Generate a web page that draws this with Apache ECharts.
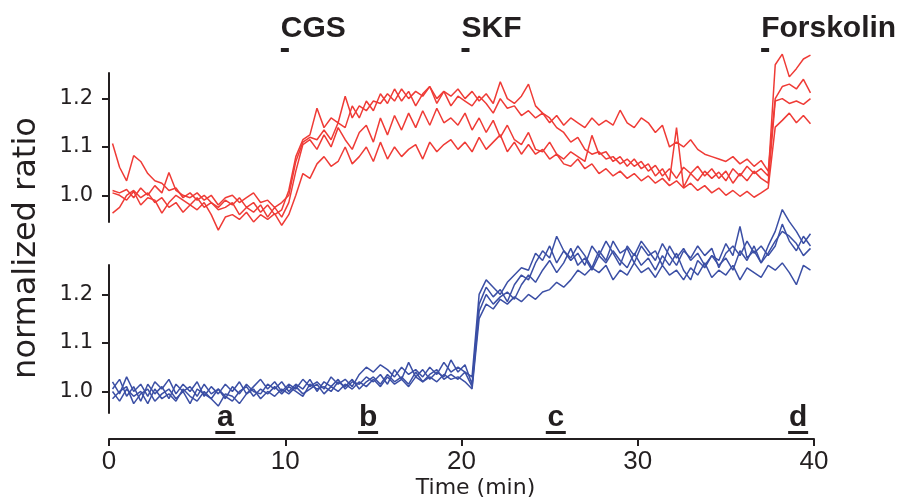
<!DOCTYPE html>
<html>
<head>
<meta charset="utf-8">
<script src="https://cdn.jsdelivr.net/npm/echarts/dist/echarts.min.js"></script>
<style>
html,body{margin:0;padding:0;background:#fff;}
#chart{width:906px;height:504px;}
</style>
</head>
<body>
<div id="chart"></div>
<script>
// ---- data ----
const times = [0.2,0.6,1.0,1.4,1.8,2.2,2.6,3.0,3.4,3.8,4.2,4.6,5.0,5.4,5.8,6.2,6.6,7.0,7.4,7.8,
  8.2,8.6,9.0,9.4,9.8,10.2,10.6,11.0,11.4,11.8,12.2,12.6,13.0,13.4,13.8,14.2,14.6,15.0,15.4,15.8,
  16.2,16.6,17.0,17.4,17.8,18.2,18.6,19.0,19.4,19.8,20.2,20.6,21.0,21.4,21.8,22.2,22.6,23.0,23.4,23.8,
  24.2,24.6,25.0,25.4,25.8,26.2,26.6,27.0,27.4,27.8,28.2,28.6,29.0,29.4,29.8,30.2,30.6,31.0,31.4,31.8,
  32.2,32.6,33.0,33.4,33.8,34.2,34.6,35.0,35.4,35.8,36.2,36.6,37.0,37.4,37.8,38.2,38.6,39.0,39.4,39.8];

const red1 = [1.107,1.058,1.030,1.082,1.070,1.045,1.030,1.025,1.010,1.015,
 0.995,1.005,0.990,1.000,0.985,0.975,0.990,0.980,0.995,0.975,
 0.985,0.965,0.980,0.960,0.970,1.010,1.080,1.115,1.125,1.180,
 1.140,1.160,1.150,1.205,1.160,1.185,1.175,1.195,1.190,1.210,
 1.195,1.220,1.200,1.215,1.205,1.225,1.200,1.215,1.205,1.220,
 1.200,1.215,1.195,1.210,1.190,1.235,1.200,1.190,1.205,1.230,
 1.185,1.170,1.160,1.140,1.130,1.110,1.120,1.095,1.085,1.090,
 1.075,1.080,1.065,1.075,1.060,1.070,1.050,1.062,1.040,1.055,
 1.035,1.058,1.045,1.030,1.050,1.035,1.048,1.030,1.055,1.040,
 1.060,1.045,1.055,1.040,1.270,1.292,1.245,1.262,1.282,1.290];
const red2 = [1.010,1.005,1.012,0.995,1.015,1.000,1.020,1.005,1.047,1.010,
 1.000,0.995,1.005,0.990,1.000,0.980,0.995,1.000,0.985,0.995,
 1.005,0.985,0.990,0.975,0.985,1.000,1.070,1.110,1.120,1.115,
 1.135,1.115,1.150,1.140,1.185,1.160,1.195,1.175,1.210,1.190,
 1.220,1.195,1.215,1.185,1.210,1.225,1.190,1.215,1.185,1.205,
 1.195,1.185,1.205,1.190,1.170,1.200,1.180,1.185,1.165,1.175,
 1.160,1.170,1.150,1.165,1.145,1.160,1.150,1.140,1.160,1.145,
 1.155,1.145,1.176,1.150,1.140,1.160,1.150,1.130,1.145,1.100,
 1.110,1.100,1.115,1.095,1.085,1.080,1.075,1.070,1.080,1.065,
 1.075,1.060,1.072,1.050,1.200,1.225,1.230,1.220,1.240,1.212];
const red3 = [1.005,1.000,0.990,1.008,0.980,0.995,0.990,0.963,0.985,1.000,
 0.990,0.980,0.995,0.975,0.985,0.970,0.975,0.985,0.960,0.975,
 0.965,0.980,0.955,0.975,0.955,0.985,1.050,1.105,1.115,1.095,
 1.125,1.100,1.140,1.115,1.095,1.130,1.145,1.110,1.160,1.125,
 1.165,1.135,1.170,1.140,1.175,1.145,1.180,1.150,1.160,1.145,
 1.170,1.135,1.160,1.130,1.155,1.120,1.145,1.115,1.105,1.130,
 1.095,1.090,1.110,1.085,1.075,1.090,1.080,1.070,1.124,1.085,
 1.090,1.070,1.080,1.060,1.075,1.055,1.065,1.040,1.055,1.030,
 1.140,1.017,1.045,1.060,1.040,1.055,1.035,1.050,1.025,1.045,
 1.030,1.050,1.035,1.025,1.195,1.200,1.190,1.195,1.188,1.200];
const red4 = [0.963,0.975,1.000,1.010,0.995,1.005,0.985,0.995,0.975,0.985,
 0.965,0.980,0.970,0.985,0.960,0.928,0.955,0.960,0.950,0.965,
 0.945,0.960,0.950,0.962,0.938,0.960,1.000,1.045,1.035,1.065,
 1.080,1.060,1.070,1.100,1.065,1.080,1.100,1.070,1.110,1.075,
 1.100,1.080,1.095,1.105,1.075,1.110,1.090,1.105,1.115,1.095,
 1.110,1.090,1.120,1.095,1.110,1.125,1.090,1.110,1.085,1.105,
 1.085,1.095,1.075,1.085,1.065,1.060,1.075,1.055,1.065,1.045,
 1.055,1.040,1.050,1.035,1.045,1.030,1.040,1.025,1.035,1.020,
 1.030,1.015,1.025,1.010,1.020,1.005,1.015,1.000,1.010,0.998,
 1.008,0.996,1.005,1.015,1.141,1.155,1.170,1.150,1.165,1.148];

const blue1 = [1.020,0.995,1.030,1.000,1.015,0.990,1.020,1.005,1.025,0.995,
 1.015,1.000,1.020,0.990,1.010,0.995,1.015,1.000,1.020,0.995,
 1.010,1.025,1.005,1.020,1.000,1.015,1.005,1.025,1.010,1.020,
 1.005,1.030,1.015,1.025,1.010,1.035,1.050,1.040,1.055,1.045,
 1.030,1.050,1.035,1.045,1.030,1.050,1.035,1.060,1.040,1.050,
 1.040,1.030,1.200,1.230,1.215,1.200,1.225,1.240,1.255,1.250,
 1.285,1.270,1.300,1.265,1.290,1.275,1.300,1.280,1.255,1.290,
 1.270,1.310,1.285,1.295,1.265,1.300,1.280,1.290,1.260,1.300,
 1.275,1.295,1.270,1.285,1.260,1.280,1.270,1.305,1.280,1.340,
 1.275,1.290,1.265,1.300,1.330,1.375,1.350,1.330,1.305,1.325];
const blue2 = [1.005,1.025,0.990,1.010,0.980,1.015,0.995,1.010,0.985,1.015,
 1.000,1.010,0.990,1.015,0.995,1.005,0.985,1.010,0.995,1.015,
 1.000,0.995,1.015,1.005,1.020,1.000,1.015,1.005,1.025,1.000,
 1.020,1.010,1.025,1.005,1.020,1.015,1.030,1.020,1.035,1.015,
 1.045,1.025,1.060,1.030,1.045,1.025,1.040,1.030,1.065,1.040,
 1.055,1.015,1.180,1.215,1.195,1.210,1.185,1.220,1.240,1.230,
 1.265,1.290,1.275,1.320,1.290,1.270,1.285,1.260,1.300,1.280,
 1.310,1.285,1.260,1.300,1.280,1.310,1.290,1.270,1.305,1.280,
 1.260,1.290,1.275,1.300,1.280,1.295,1.255,1.285,1.300,1.280,
 1.310,1.285,1.300,1.280,1.300,1.345,1.310,1.290,1.320,1.300];
const blue3 = [0.985,1.000,1.010,0.975,0.995,1.005,0.980,0.995,1.005,0.985,
 1.000,0.975,1.005,0.995,0.985,1.005,0.990,0.980,1.000,1.010,
 0.990,1.005,0.995,1.010,0.995,1.010,1.000,0.990,1.015,1.005,
 1.010,1.000,1.020,1.010,1.025,1.005,1.020,1.030,1.015,1.035,
 1.020,1.030,1.015,1.040,1.020,1.035,1.045,1.025,1.035,1.025,
 1.040,1.010,1.165,1.200,1.180,1.195,1.205,1.190,1.220,1.240,
 1.225,1.250,1.270,1.245,1.265,1.295,1.260,1.275,1.250,1.280,
 1.265,1.290,1.270,1.255,1.285,1.260,1.275,1.250,1.280,1.260,
 1.285,1.250,1.230,1.270,1.255,1.280,1.260,1.275,1.250,1.290,
 1.270,1.300,1.265,1.285,1.310,1.330,1.320,1.305,1.280,1.295];
const blue4 = [1.000,0.980,1.005,0.990,1.000,0.975,1.005,0.985,0.995,0.980,
 1.005,0.990,0.980,1.000,0.985,0.970,0.995,0.990,0.975,0.995,
 1.005,0.985,1.000,0.990,1.005,0.995,1.010,0.995,1.005,1.015,
 0.995,1.010,1.000,1.015,1.005,1.020,1.010,1.025,1.010,1.030,
 1.015,1.025,1.010,1.030,1.020,1.030,1.020,1.035,1.025,1.030,
 1.020,1.005,1.150,1.180,1.170,1.190,1.180,1.195,1.185,1.200,
 1.190,1.205,1.210,1.225,1.215,1.230,1.250,1.240,1.255,1.245,
 1.260,1.230,1.250,1.240,1.265,1.245,1.255,1.235,1.260,1.240,
 1.250,1.230,1.255,1.240,1.265,1.235,1.250,1.240,1.260,1.230,
 1.255,1.245,1.235,1.260,1.250,1.265,1.245,1.220,1.260,1.250];

const yTicks = [1.0, 1.1, 1.2];
const xTicks = [0, 10, 20, 30, 40];
const drugNames = ['CGS', 'SKF', 'Forskolin'];
const drugTimes = [9.75, 20.0, 37.0];
const markLetters = ['a', 'b', 'c', 'd'];
const markTimes = [6.6, 14.7, 25.35, 39.1];

// ---- styles ----
const INK = '#231f20';
const RED = '#ef3b36';
const BLUE = '#3b4fa5';

const chart = echarts.init(document.getElementById('chart'), null, {renderer: 'canvas'});

function pairs(vals) { return times.map((t, i) => [t, vals[i]]); }

function lineSeries(vals, color, idx) {
  return {
    type: 'line', data: pairs(vals), xAxisIndex: idx, yAxisIndex: idx,
    symbol: 'none', showSymbol: false, clip: false, silent: true,
    lineStyle: {color: color, width: 1.5}, z: 2
  };
}

function yAxisCfg(idx, min, max) {
  return {
    type: 'value', gridIndex: idx, min: min, max: max,
    axisLine: {show: true, lineStyle: {color: INK, width: 2}},
    axisTick: {show: true, length: 7, lineStyle: {color: INK, width: 2}, customValues: yTicks},
    axisLabel: {
      customValues: yTicks, margin: 16,
      formatter: v => v.toFixed(1),
      fontFamily: 'DejaVu Sans', fontSize: 21, color: INK,
      padding: [0, 0, 4, 0]
    },
    splitLine: {show: false}
  };
}

const option = {
  animation: false,
  backgroundColor: '#fff',
  grid: [
    {left: 109, top: 73, width: 705, height: 149},
    {left: 109, top: 265, width: 705, height: 148}
  ],
  xAxis: [
    {type: 'value', gridIndex: 0, min: 0, max: 40, show: false},
    {
      type: 'value', gridIndex: 1, min: 0, max: 40, interval: 10, offset: 26,
      axisLine: {show: true, lineStyle: {color: INK, width: 2}},
      axisTick: {show: true, length: 7, lineStyle: {color: INK, width: 2}},
      axisLabel: {
        margin: 10, fontFamily: 'Liberation Sans', fontSize: 26, color: INK,
        customValues: xTicks
      },
      splitLine: {show: false},
      name: 'Time (min)', nameLocation: 'middle', nameGap: 38,
      nameTextStyle: {fontFamily: 'DejaVu Sans', fontSize: 22, color: INK, padding: [0, 0, 0, 28]}
    }
  ],
  yAxis: [
    yAxisCfg(0, 0.9448, 1.253),
    yAxisCfg(1, 0.9556, 1.2607)
  ],
  graphic: [
    {
      type: 'text', x: 27, y: 248, rotation: Math.PI / 2,
      style: {text: 'normalized ratio', font: '32px "DejaVu Sans"', fill: INK, align: 'center', verticalAlign: 'middle'}
    }
  ],
  series: [
    lineSeries(red1, RED, 0),
    lineSeries(red2, RED, 0),
    lineSeries(red3, RED, 0),
    lineSeries(red4, RED, 0),
    lineSeries(blue1, BLUE, 1),
    lineSeries(blue2, BLUE, 1),
    lineSeries(blue3, BLUE, 1),
    lineSeries(blue4, BLUE, 1),
    {
      type: 'custom', xAxisIndex: 0, yAxisIndex: 0, silent: true, clip: false,
      data: drugTimes.map(t => [t, 1.0]),
      renderItem: function (params, api) {
        const x = api.coord([api.value(0), api.value(1)])[0];
        const cs = params.coordSys;
        return {
          type: 'group',
          children: [
            {type: 'rect', shape: {x: x, y: cs.y - 25, width: 8, height: 4}, style: {fill: INK}},
            {type: 'text', x: x, y: cs.y - 44,
             style: {text: drugNames[params.dataIndex], font: 'bold 30px "Liberation Sans"', fill: INK, align: 'left', verticalAlign: 'middle'}}
          ]
        };
      }
    },
    {
      type: 'custom', xAxisIndex: 1, yAxisIndex: 1, silent: true, clip: false,
      data: markTimes.map(t => [t, 1.0]),
      renderItem: function (params, api) {
        const x = api.coord([api.value(0), api.value(1)])[0];
        const cs = params.coordSys;
        const bottom = cs.y + cs.height;
        return {
          type: 'group',
          children: [
            {type: 'text', x: x, y: bottom + 5,
             style: {text: markLetters[params.dataIndex], font: 'bold 30px "Liberation Sans"', fill: INK, align: 'center', verticalAlign: 'middle'}},
            {type: 'rect', shape: {x: x - 10, y: bottom + 18, width: 20, height: 3}, style: {fill: INK}}
          ]
        };
      }
    }
  ]
};
chart.setOption(option);
</script>
</body>
</html>
